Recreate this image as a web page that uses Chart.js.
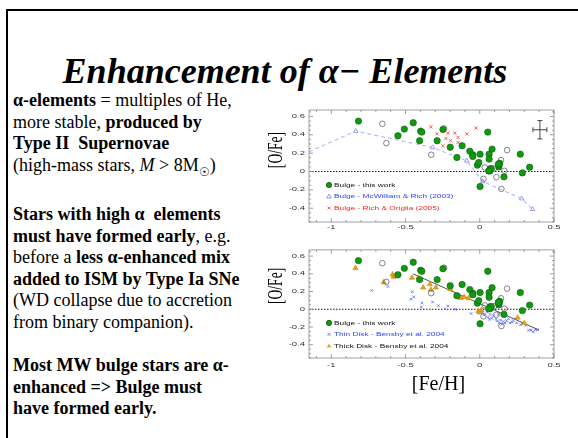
<!DOCTYPE html>
<html>
<head>
<meta charset="utf-8">
<script src="https://cdn.jsdelivr.net/npm/chart.js@4.4.1/dist/chart.umd.min.js"></script>
<style>
  body { margin: 0; width: 578px; height: 438px; background: #fff; position: relative; overflow: hidden; }
  .frame { position: absolute; left: 6px; top: 9px; width: 580px; height: 440px; border-left: 2px solid #000; border-top: 2px solid #000; }
  .title { position: absolute; left: 0; width: 570px; top: 53px; text-align: center; font: italic bold 36px "Liberation Serif", "Times New Roman", serif; line-height: 36px; white-space: nowrap; }
  .txt { position: absolute; left: 13px; font: 18px "Liberation Serif", "Times New Roman", serif; line-height: 21.5px; white-space: nowrap; color: #000; }
  .box { position: absolute; left: 262px; width: 312px; }
  sub { font-size: 12px; line-height: 0; }
</style>
</head>
<body>
<div class="frame"></div>
<div class="title">Enhancement of α− Elements</div>
<div class="txt" style="top:90px"><b>α-elements</b> = multiples of He,<br>more stable, <b>produced by</b><br><b>Type II&nbsp; Supernovae</b><br>(high-mass stars, <i>M</i> &gt; 8M<sub>☉</sub>)</div>
<div class="txt" style="top:204px"><b>Stars with high α&nbsp; elements</b><br><b>must have formed early</b>, e.g.<br>before a <b>less α-enhanced mix</b><br><b>added to ISM by Type Ia SNe</b><br>(WD collapse due to accretion<br>from binary companion).</div>
<div class="txt" style="top:355px"><b>Most MW bulge stars are α-</b><br><b>enhanced =&gt; Bulge must</b><br><b>have formed early.</b></div>
<div class="box" style="top:105px;height:130px"><canvas id="top" width="312" height="130"></canvas></div>
<div class="box" style="top:245px;height:160px"><canvas id="bottom" width="312" height="160"></canvas></div>
<script>
// --- Data ([Fe/H], [O/Fe]) ---
const xTicks = [-1, -0.5, 0, 0.5];
const yTicks = [-0.4, -0.2, 0, 0.2, 0.4, 0.6];

const bulge = [
  [-0.817, 0.549], [-0.508, 0.462], [-0.448, 0.531], [-0.551, 0.389], [-0.405, 0.335],
  [-0.398, 0.44], [-0.39, 0.429], [-0.248, 0.458], [-0.287, 0.335], [-0.199, 0.265],
  [-0.119, 0.28], [-0.154, 0.153], [-0.067, 0.222], [-0.047, 0.182], [-0.047, 0.164],
  [-0.016, 0.069], [-0.007, 0.098], [0.002, 0.189], [0.002, -0.164], [0.054, 0.429],
  [0.063, 0.189], [0.063, 0.135], [0.083, 0.244], [0.069, 0.007], [0.07, 0.03],
  [0.078, 0.03], [0.06, 0.005], [0.128, 0.05], [0.13, 0.07], [0.134, 0.09], [0.125, 0.08],
  [0.163, -0.058], [0.273, 0.189], [0.287, -0.015], [0.336, 0.047],
];
const bulgeOther = [
  [-0.656, 0.52], [-0.629, 0.309], [-0.327, 0.182], [-0.24, 0.469], [0.034, 0.044],
  [0.025, -0.08], [0.112, -0.062], [0.143, 0.124], [0.146, -0.189], [0.166, 0.007],
  [0.184, 0.233], [0.096, 0.033],
];
const mcWilliam = [
  [-1.15, 0.215], [-0.835, 0.44], [-0.318, 0.262], [-0.087, 0.116], [0.02, -0.109],
  [0.282, -0.295], [0.356, -0.411],
];
const richOriglia = [
  [-0.329, 0.487], [-0.24, 0.465], [-0.289, 0.41], [-0.248, 0.28], [-0.228, 0.36],
  [-0.215, 0.418], [-0.197, 0.335], [-0.168, 0.418], [-0.146, 0.371], [-0.146, 0.316],
  [-0.087, 0.41], [-0.025, 0.473],
];
const thinDisk = [
  [-0.728, 0.212], [-0.618, 0.256], [-0.454, 0.198], [-0.463, 0.114], [-0.445, 0.139],
  [-0.39, 0.07], [-0.394, 0.026], [-0.318, 0.081], [-0.278, 0.04], [-0.233, 0.004],
  [-0.215, 0.037], [-0.166, 0.0], [-0.058, -0.048], [0.011, -0.007], [0.02, -0.037],
  [0.029, -0.066], [0.047, -0.029], [0.056, -0.092], [0.065, -0.114], [0.069, -0.059],
  [0.081, -0.103], [0.092, -0.073], [0.11, -0.114], [0.119, -0.132], [0.125, -0.059],
  [0.132, -0.154], [0.141, -0.121], [0.15, -0.168], [0.159, -0.139], [0.17, -0.154],
  [0.181, -0.128], [0.193, -0.106], [0.204, -0.154], [0.217, -0.143], [0.226, -0.128],
  [0.24, -0.11], [0.248, -0.154], [0.275, -0.176], [0.287, -0.154], [0.311, -0.183],
  [0.329, -0.238], [0.345, -0.234], [0.36, -0.256], [0.374, -0.231], [0.387, -0.231],
];
const thickDisk = [
  [-0.837, 0.465], [-0.647, 0.304], [-0.587, 0.392], [-0.58, 0.366], [-0.569, 0.377],
  [-0.457, 0.355], [-0.412, 0.359], [-0.405, 0.333], [-0.381, 0.245], [-0.336, 0.282],
  [-0.329, 0.22], [-0.296, 0.245], [-0.197, 0.227], [-0.128, 0.128], [-0.105, 0.139],
  [-0.076, 0.125], [-0.009, -0.022], [0.0, -0.037], [0.011, -0.01], [0.255, -0.095],
  [0.3, -0.157],
];
const trendLine = [[-0.45, 0.40], [0.40, -0.235]];
const zeroLine = [[-1.15, 0], [0.5, 0]];
const errBar = { x: 0.405, y: 0.455, dx: 0.047, dy: 0.1 };

const X_MIN = -1.15, X_MAX = 0.5, Y_MIN = -0.55, Y_MAX = 0.67;

// --- Helpers ---
const pts = (arr) => arr.map(([x, y]) => ({ x, y }));

function squash(ctx, text, x, y, sy) {
  ctx.save();
  ctx.translate(x, y);
  ctx.scale(1, sy);
  ctx.fillText(text, 0, 0);
  ctx.restore();
}

function marker(ctx, style, x, y) {
  ctx.save();
  ctx.lineWidth = 0.9;
  if (style === 'dot') {
    ctx.fillStyle = '#119911'; ctx.strokeStyle = '#0b5e0b';
    ctx.beginPath(); ctx.arc(x, y, 2.6, 0, Math.PI * 2); ctx.fill(); ctx.stroke();
  } else if (style === 'tri' || style === 'triFill') {
    ctx.beginPath();
    ctx.moveTo(x, y - 2.4); ctx.lineTo(x + 2.2, y + 1.5); ctx.lineTo(x - 2.2, y + 1.5); ctx.closePath();
    if (style === 'triFill') { ctx.fillStyle = '#e8a317'; ctx.fill(); }
    else { ctx.strokeStyle = '#7788ff'; ctx.stroke(); }
  } else {
    ctx.strokeStyle = style === 'xRed' ? '#ff5555' : '#6677ff';
    ctx.beginPath();
    ctx.moveTo(x - 1.5, y - 1.5); ctx.lineTo(x + 1.5, y + 1.5);
    ctx.moveTo(x + 1.5, y - 1.5); ctx.lineTo(x - 1.5, y + 1.5);
    ctx.stroke();
  }
  ctx.restore();
}

// frame, inward ticks, tick labels, titles and inner legend
const slidePlugin = {
  id: 'slide',
  afterDatasetsDraw(chart, args, o) {
    const { ctx, chartArea: a, scales: { x, y } } = chart;
    ctx.save();
    ctx.strokeStyle = '#888';
    ctx.lineWidth = 0.8;
    ctx.strokeRect(a.left, a.top, a.width, a.height);

    ctx.beginPath();
    for (let i = Math.ceil(x.min / 0.1); i * 0.1 <= x.max + 1e-9; i++) {
      const v = i * 0.1, px = x.getPixelForValue(v);
      const len = i % 5 === 0 ? 4 : 2;
      ctx.moveTo(px, a.bottom); ctx.lineTo(px, a.bottom - len);
      ctx.moveTo(px, a.top); ctx.lineTo(px, a.top + len);
    }
    for (let i = Math.ceil(y.min / 0.05); i * 0.05 <= y.max + 1e-9; i++) {
      const v = i * 0.05, py = y.getPixelForValue(v);
      const len = i % 4 === 0 ? 4 : 2;
      ctx.moveTo(a.left, py); ctx.lineTo(a.left + len, py);
      ctx.moveTo(a.right, py); ctx.lineTo(a.right - len, py);
    }
    ctx.stroke();

    // tick labels
    ctx.fillStyle = '#333';
    ctx.font = '9.5px "Liberation Sans", Arial, sans-serif';
    ctx.textBaseline = 'middle';
    ctx.textAlign = 'center';
    xTicks.forEach((v) => squash(ctx, String(v), x.getPixelForValue(v), a.bottom + o.xLabelGap, 0.62));
    ctx.textAlign = 'right';
    yTicks.forEach((v) => squash(ctx, String(v), a.left - 4, y.getPixelForValue(v), 0.62));

    // y title
    ctx.fillStyle = '#000';
    ctx.font = '20px "Liberation Serif", "Times New Roman", serif';
    ctx.textAlign = 'center';
    ctx.save();
    ctx.translate(a.left - 32, a.top + o.yTitleOffset);
    ctx.rotate(-Math.PI / 2);
    ctx.scale(0.68, 1);
    ctx.fillText('[O/Fe]', 0, 0);
    ctx.restore();

    if (o.xTitle) {
      ctx.font = '20px "Liberation Serif", "Times New Roman", serif';
      ctx.fillText(o.xTitle, (a.left + a.right) / 2 + 7, a.bottom + 27);
    }

    // inner legend
    ctx.font = '8.3px "Liberation Sans", Arial, sans-serif';
    ctx.textAlign = 'left';
    o.legend.forEach((item, i) => {
      const ly = a.top + o.legendTop + i * 11.5;
      marker(ctx, item.style, a.left + 20, ly);
      ctx.fillStyle = item.color;
      squash(ctx, item.label, a.left + 25, ly, 0.72);
    });
    ctx.restore();
  },
};

function makeChart(id, datasets, opts) {
  return new Chart(document.getElementById(id), {
    type: 'scatter',
    data: { datasets },
    options: {
      responsive: false,
      animation: false,
      events: [],
      layout: { padding: { top: opts.padTop, right: 20, left: 0, bottom: 0 } },
      plugins: { legend: { display: false }, tooltip: { enabled: false }, slide: opts.slide },
      scales: {
        x: {
          type: 'linear', min: X_MIN, max: X_MAX,
          ticks: { display: false }, grid: { display: false }, border: { display: false },
          afterFit: (s) => { s.height = opts.xHeight; },
        },
        y: {
          type: 'linear', min: Y_MIN, max: Y_MAX,
          ticks: { display: false }, grid: { display: false }, border: { display: false },
          afterFit: (s) => { s.width = 47; },
        },
      },
    },
    plugins: [slidePlugin],
  });
}

const zeroDs = {
  data: pts(zeroLine), showLine: true, pointRadius: 0,
  borderColor: '#000', borderWidth: 0.9, borderDash: [1.5, 1.5], order: 10,
};
const bulgeDs = () => ({
  data: pts(bulge), pointStyle: 'circle', pointRadius: 3.2,
  backgroundColor: '#119911', borderColor: '#0b5e0b', borderWidth: 0.6, order: 1,
});
const otherDs = () => ({
  data: pts(bulgeOther), pointStyle: 'circle', pointRadius: 2.8,
  backgroundColor: 'rgba(0,0,0,0)', borderColor: '#666', borderWidth: 0.8, order: 2,
});

// --- Top panel ---
makeChart('top', [
  zeroDs,
  {
    data: pts(mcWilliam), showLine: true, pointStyle: 'triangle',
    pointRadius: mcWilliam.map((p, i) => (i === 0 ? 0 : 2.6)),
    pointBackgroundColor: '#fff', pointBorderColor: '#7788ff', pointBorderWidth: 0.8,
    borderColor: '#b9bdff', borderWidth: 1.2, borderDash: [4, 3], order: 5,
  },
  {
    data: pts(richOriglia), pointStyle: 'crossRot', pointRadius: 2.2,
    borderColor: '#ff5555', borderWidth: 1, order: 4,
  },
  otherDs(),
  bulgeDs(),
  {
    data: [{ x: errBar.x - errBar.dx, y: errBar.y }, { x: errBar.x + errBar.dx, y: errBar.y }],
    showLine: true, pointStyle: 'line', pointRotation: 90, pointRadius: 2.5,
    borderColor: '#333', borderWidth: 0.9, order: 0,
  },
  {
    data: [{ x: errBar.x, y: errBar.y - errBar.dy }, { x: errBar.x, y: errBar.y + errBar.dy }],
    showLine: true, pointStyle: 'line', pointRadius: 2.5,
    borderColor: '#333', borderWidth: 0.9, order: 0,
  },
], {
  padTop: 5, xHeight: 13,
  slide: {
    xLabelGap: 5, yTitleOffset: 40, legendTop: 75,
    legend: [
      { style: 'dot', label: 'Bulge - this work', color: '#111' },
      { style: 'tri', label: 'Bulge - McWilliam & Rich (2003)', color: '#3344ff' },
      { style: 'xRed', label: 'Bulge - Rich & Origlia (2005)', color: '#ff2222' },
    ],
  },
});

// --- Bottom panel ---
makeChart('bottom', [
  zeroDs,
  {
    data: pts(thinDisk), pointStyle: 'crossRot', pointRadius: 1.8,
    borderColor: '#6677ff', borderWidth: 0.9, order: 6,
  },
  {
    data: pts(trendLine), showLine: true, pointRadius: 0,
    borderColor: '#555', borderWidth: 1, order: 5,
  },
  {
    data: pts(thickDisk), pointStyle: 'triangle', pointRadius: 3,
    backgroundColor: '#e8a317', borderColor: '#c8860a', borderWidth: 0.6, order: 4,
  },
  otherDs(),
  bulgeDs(),
], {
  padTop: 4, xHeight: 47,
  slide: {
    xLabelGap: 7, yTitleOffset: 36, legendTop: 73, xTitle: '[Fe/H]',
    legend: [
      { style: 'dot', label: 'Bulge - this work', color: '#111' },
      { style: 'xBlue', label: 'Thin Disk - Bensby et al. 2004', color: '#3344ff' },
      { style: 'triFill', label: 'Thick Disk - Bensby et al. 2004', color: '#111' },
    ],
  },
});
</script>
</body>
</html>
